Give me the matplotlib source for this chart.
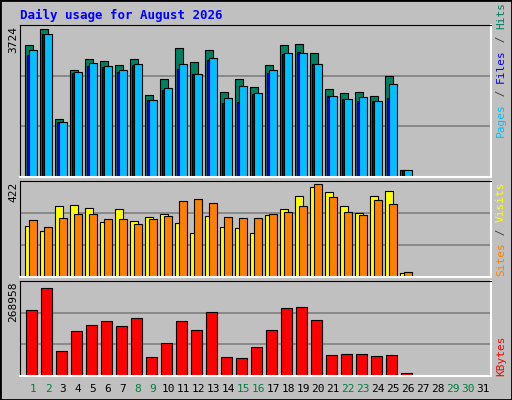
import matplotlib.pyplot as plt
import numpy as np

days = list(range(1, 32))
tick_colors = ["#008040" if d in (1, 2, 8, 9, 15, 16, 22, 23, 29, 30) else "black" for d in days]

hits = [3239, 3634, 1414, 2622, 2894, 2844, 2746, 2894, 2006, 2400, 3165, 2820, 3116,
        2080, 2400, 2203, 2746, 3239, 3264, 3042, 2154, 2055, 2080, 1981, 2475, 181]
files = [3116, 3510, 1340, 2573, 2795, 2721, 2623, 2770, 1883, 2179, 2770, 2524, 2918,
         1932, 2228, 2055, 2623, 3042, 3042, 2770, 1981, 1907, 1957, 1858, 2277, 181]
pages = [2992, 3510, 1340, 2549, 2721, 2697, 2573, 2746, 1883, 2129, 2647, 2524, 2869,
         1809, 1833, 2031, 2549, 3017, 3066, 2770, 1981, 1907, 1858, 1858, 1932, 181]
sites = [224, 201, 312, 317, 304, 241, 299, 246, 264, 277, 237, 193, 268,
         219, 215, 193, 272, 299, 357, 397, 375, 312, 281, 357, 379, 19]
visits = [250, 219, 259, 277, 277, 255, 255, 233, 255, 268, 335, 344, 326,
          264, 259, 259, 277, 286, 312, 410, 352, 286, 272, 339, 321, 24]
kbytes = [185648, 248134, 71542, 128595, 144896, 155763, 142179, 163914, 52525, 93277,
          155763, 131312, 180214, 52525, 49808, 82410, 131312, 193798, 196515, 158480,
          60675, 63392, 63392, 57958, 60675, 9056]
max_hits, max_visits, max_kb = 3724, 422, 268958

W, H = 512, 400
BG = "#c0c0c0"
MONO = "DejaVu Sans Mono"

fig = plt.figure(figsize=(W / 100, H / 100), dpi=100, facecolor=BG)
# outer border
fig.patches.append(plt.Rectangle((0, 0), 1, 1, transform=fig.transFigure,
                                 fill=False, edgecolor="black", lw=2))

def panel(top, bottom, ymax):
    ax = fig.add_axes([20 / W, 1 - bottom / H, 471 / W, (bottom - top) / H])
    ax.set_facecolor(BG)
    ax.set_xlim(0.133, 31.53)
    ax.set_ylim(0, ymax)
    for g in (ymax / 3, 2 * ymax / 3):
        ax.axhline(g, color="#808080", lw=1.2, zorder=0)
    ax.set_xticks([])
    ax.set_yticks([])
    for s in ("left", "top"):
        ax.spines[s].set_color("black")
    for s in ("right", "bottom"):
        ax.spines[s].set_color("white")
        ax.spines[s].set_linewidth(1.5)
    return ax

x = np.arange(1, len(hits) + 1)
kw = dict(edgecolor="black", linewidth=0.8, align="edge")

ax1 = panel(25, 177, max_hits)
ax1.bar(x - 0.53, hits, 0.53, color="#008060", **kw)
ax1.bar(x - 0.4, pages, 0.2, color="#0000ff", **kw)
ax1.bar(x - 0.27, files, 0.54, color="#00c0ff", **kw)

ax2 = panel(181, 277, max_visits)
ax2.bar(x - 0.53, sites, 0.53, color="#ffff00", **kw)
ax2.bar(x - 0.27, visits, 0.54, color="#ff8000", **kw)

ax3 = panel(281, 376, max_kb)
ax3.bar(x - 0.47, kbytes, 0.74, color="#ff0000", **kw)
for d, c in zip(days, tick_colors):
    ax3.text(d, -0.14, str(d), color=c, ha="center", va="center",
             transform=ax3.get_xaxis_transform(), family=MONO, fontsize=8)

fig.text(20 / W, 1 - 15 / H, "Daily usage for August 2026", color="#0000ff",
         family=MONO, fontweight="bold", fontsize=9, va="center")

for ytop, label in ((26, str(max_hits)), (182, str(max_visits)), (282, str(max_kb))):
    fig.text(13 / W, 1 - ytop / H, label, rotation=90, ha="center", va="top",
             family=MONO, fontsize=8)

renderer = fig.canvas.get_renderer()

def right_label(parts, ybottom):
    # stack coloured pieces bottom-up, measuring each one
    y = ybottom
    for txt, col in parts:
        t = fig.text(501 / W, 1 - y / H, txt, rotation=90, ha="center", va="bottom",
                     color=col, family=MONO, fontsize=8)
        y -= t.get_window_extent(renderer).height

right_label([("Pages", "#00c0ff"), (" / ", "#404040"), ("Files", "#0000ff"),
             (" / ", "#404040"), ("Hits", "#008060")], 137)
right_label([("Sites", "#ff8000"), (" / ", "#404040"), ("Visits", "#ffff00")], 276)
right_label([("KBytes", "#ff0000")], 376)

fig.savefig("out.png", dpi=100, facecolor=BG)
